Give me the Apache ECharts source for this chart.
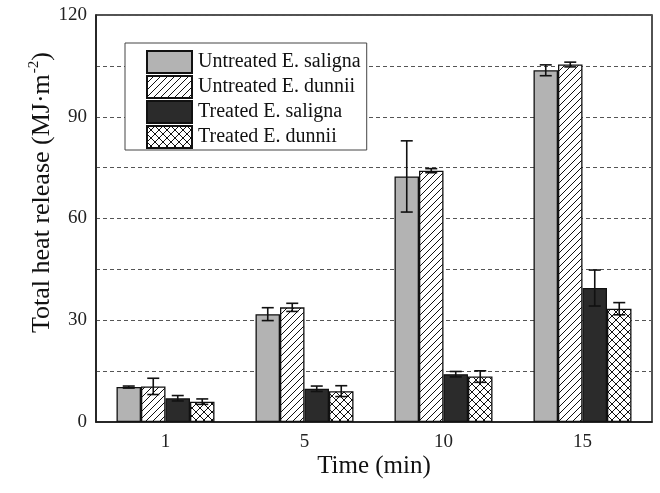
<!DOCTYPE html>
<html>
<head>
<meta charset="utf-8">
<script src="https://cdn.jsdelivr.net/npm/echarts@6/dist/echarts.min.js"></script>
<style>html,body{margin:0;padding:0;background:#fff;}#c{width:660px;height:493px;}</style>
</head>
<body>
<div id="c"></div>
<script>
// ---- data ----
const categories = ['1', '5', '10', '15'];
const seriesNames = ['Untreated E. saligna', 'Untreated E. dunnii', 'Treated E. saligna', 'Treated E. dunnii'];
const untreatedSaligna = [10.3, 31.8, 72.4, 103.7];
const untreatedDunnii = [10.5, 33.8, 74.1, 105.4];
const treatedSaligna = [7.0, 9.8, 14.1, 39.5];
const treatedDunnii = [6.0, 9.1, 13.4, 33.4];
const errUntreatedSaligna = [0.3, 1.9, 10.5, 1.6];
const errUntreatedDunnii = [2.4, 1.2, 0.6, 0.7];
const errTreatedSaligna = [0.8, 0.8, 0.8, 5.3];
const errTreatedDunnii = [0.8, 1.6, 1.7, 1.8];
const yTicks = [0, 30, 60, 90, 120];

// ---- patterns ----
function hatchPattern() {
  const s = 7, c = document.createElement('canvas');
  c.width = s; c.height = s;
  const g = c.getContext('2d');
  g.fillStyle = '#fff'; g.fillRect(0, 0, s, s);
  g.strokeStyle = '#111'; g.lineWidth = 1;
  g.beginPath();
  g.moveTo(-1, s + 1); g.lineTo(s + 1, -1);
  g.moveTo(-1, 1); g.lineTo(1, -1);
  g.moveTo(s - 1, s + 1); g.lineTo(s + 1, s - 1);
  g.stroke();
  return { image: c, repeat: 'repeat' };
}
function crossPattern() {
  const s = 8, c = document.createElement('canvas');
  c.width = s; c.height = s;
  const g = c.getContext('2d');
  g.fillStyle = '#fff'; g.fillRect(0, 0, s, s);
  g.strokeStyle = '#111'; g.lineWidth = 1;
  g.beginPath();
  g.moveTo(-1, s + 1); g.lineTo(s + 1, -1);
  g.moveTo(-1, -1); g.lineTo(s + 1, s + 1);
  g.stroke();
  return { image: c, repeat: 'repeat' };
}

const FONT = 'Liberation Serif';
const BAR_W = 24.5;
const values = [untreatedSaligna, untreatedDunnii, treatedSaligna, treatedDunnii];
const errors = [errUntreatedSaligna, errUntreatedDunnii, errTreatedSaligna, errTreatedDunnii];
const fills = ['#b3b3b3', hatchPattern(), '#2b2b2b', crossPattern()];

const barSeries = values.map((v, i) => ({
  name: seriesNames[i],
  type: 'bar',
  data: v,
  barWidth: BAR_W,
  barGap: '0%',
  itemStyle: { color: fills[i], borderColor: '#111', borderWidth: 1.3 },
  emphasis: { disabled: true },
  z: 2
}));

const errSeries = values.map((v, i) => ({
  type: 'custom',
  name: 'err' + i,
  data: v.map((val, k) => [k, val - errors[i][k], val + errors[i][k]]),
  z: 5,
  silent: true,
  renderItem: function (params, api) {
    const lo = api.coord([api.value(0), api.value(1)]);
    const hi = api.coord([api.value(0), api.value(2)]);
    const x = lo[0] + (i - 1.5) * BAR_W;
    const hw = 6;
    const st = { stroke: '#111', lineWidth: 1.6 };
    return {
      type: 'group',
      children: [
        { type: 'line', shape: { x1: x, y1: lo[1], x2: x, y2: hi[1] }, style: st },
        { type: 'line', shape: { x1: x - hw, y1: lo[1], x2: x + hw, y2: lo[1] }, style: st },
        { type: 'line', shape: { x1: x - hw, y1: hi[1], x2: x + hw, y2: hi[1] }, style: st }
      ]
    };
  }
}));

const chart = echarts.init(document.getElementById('c'), null, { renderer: 'canvas' });
chart.setOption({
  animation: false,
  backgroundColor: '#fff',
  grid: { left: 96, right: 8, top: 15, bottom: 71, show: true, borderColor: '#1a1a1a', borderWidth: 1.5, backgroundColor: 'transparent' },
  legend: {
    data: seriesNames.map(n => ({ name: n, icon: 'rect' })),
    orient: 'vertical',
    left: 125, top: 43,
    itemWidth: 45, itemHeight: 22, itemGap: 1,
    padding: [7, 6, 1, 21],
    borderColor: '#444', borderWidth: 1,
    backgroundColor: '#fff',
    selectedMode: false,
    textStyle: { fontFamily: FONT, fontSize: 20, lineHeight: 20, color: '#111', padding: [0, 0, 0, 1] }
  },
  xAxis: {
    type: 'category',
    data: categories,
    name: 'Time (min)',
    nameLocation: 'middle',
    nameGap: 32,
    nameMoveOverlap: false,
    nameTextStyle: { fontFamily: FONT, fontSize: 25, color: '#111' },
    axisLine: { lineStyle: { color: '#1a1a1a', width: 1.5 } },
    axisTick: { show: false },
    axisLabel: { fontFamily: FONT, fontSize: 19, color: '#222', margin: 11 }
  },
  yAxis: {
    type: 'value',
    min: 0, max: 120, interval: 15,
    name: 'Total heat release (MJ·m{sup|-2})',
    nameLocation: 'middle',
    nameGap: 39,
    nameMoveOverlap: false,
    nameTextStyle: {
      fontFamily: FONT, fontSize: 26, color: '#111',
      padding: [0, 0, 0, 52],
      rich: { sup: { fontFamily: FONT, fontSize: 15, color: '#111', verticalAlign: 'top', padding: [0, 0, 15, 1] } }
    },
    axisLine: { show: true, lineStyle: { color: '#1a1a1a', width: 1.5 } },
    axisTick: { show: false },
    axisLabel: {
      fontFamily: FONT, fontSize: 19, color: '#222', margin: 9,
      formatter: v => (yTicks.indexOf(v) >= 0 ? String(v) : '')
    },
    splitLine: { show: true, lineStyle: { color: '#555', width: 1, type: [4, 3] } }
  },
  series: barSeries.concat(errSeries)
});
</script>
</body>
</html>
